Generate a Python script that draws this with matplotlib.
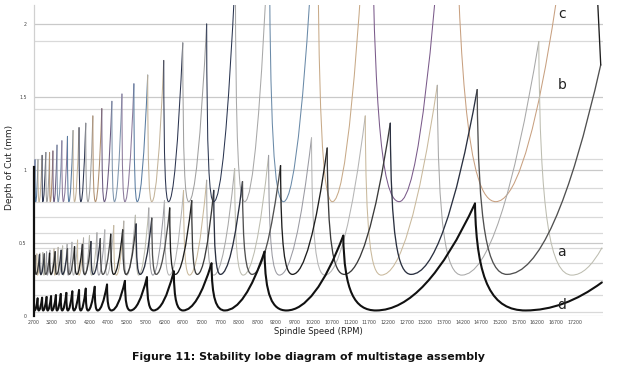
import matplotlib
matplotlib.use("Agg")
import matplotlib.pyplot as plt
from matplotlib.path import Path
from matplotlib.patches import PathPatch

# ---------------- data ----------------
x_ticks = list(range(2700, 17201, 500))
y_ticks = [0, 0.5, 1, 1.5, 2]
y_tick_labels = ["0", "0.5", "1", "1.5", "2"]

# family c (coloured, minimum depth ~0.78)
c_cusp_rpm = [2700, 2740, 2820, 2930, 3030, 3130, 3220, 3330, 3460, 3610, 3760, 3920, 4100,
              4290, 4530, 4800, 5070, 5390, 5760, 6190, 6700, 7340, 8110, 9020, 10310,
              11750, 13970, 17930]
c_cusp_depth = [1.06, 1.07, 1.07, 1.10, 1.12, 1.12, 1.13, 1.17, 1.20, 1.23, 1.27, 1.29, 1.32,
                1.37, 1.42, 1.47, 1.52, 1.59, 1.65, 1.75, 1.87, 2.00, 2.35, 2.70, 3.10,
                3.50, 4.00, 5.00]
c_min_rpm = [2710, 2760, 2850, 2950, 3060, 3150, 3250, 3360, 3500, 3650, 3800, 3970, 4160,
             4360, 4600, 4870, 5150, 5480, 5870, 6320, 6860, 7530, 8360, 9400, 10710,
             12500, 15090]
c_min_depth = 0.783

# family a (grey, minimum depth ~0.28)
a_cusp_rpm = [2700, 2790, 2870, 2950, 3050, 3140, 3250, 3360, 3480, 3600, 3730, 3880, 4040,
              4200, 4400, 4610, 4850, 5120, 5430, 5790, 6210, 6720, 7340, 8090, 9000,
              10150, 11590, 13520, 16240, 17930]
a_cusp_depth = [0.42, 0.425, 0.43, 0.435, 0.44, 0.45, 0.46, 0.47, 0.48, 0.49, 0.505, 0.52,
                0.535, 0.55, 0.57, 0.59, 0.62, 0.65, 0.69, 0.74, 0.79, 0.86, 0.93, 1.01,
                1.10, 1.22, 1.37, 1.58, 1.88, 0.466]
a_min_rpm = [2720, 2810, 2900, 2980, 3070, 3170, 3270, 3380, 3500, 3630, 3770, 3920, 4080,
             4260, 4450, 4670, 4920, 5200, 5520, 5900, 6340, 6880, 7530, 8320, 9290,
             10510, 12020, 14180, 17130]
a_min_depth = 0.28

# family b (black, minimum depth ~0.28)
b_cusp_rpm = [2700, 2740, 2860, 2990, 3130, 3280, 3440, 3610, 3800, 4010, 4240, 4490, 4770,
              5090, 5450, 5870, 6350, 6940, 7530, 8300, 9320, 10570, 12260, 14590, 17900]
b_cusp_depth = [0.41, 0.415, 0.42, 0.425, 0.43, 0.44, 0.45, 0.46, 0.475, 0.49, 0.51, 0.53,
                0.56, 0.59, 0.63, 0.67, 0.74, 0.79, 0.86, 0.92, 1.03, 1.15, 1.32, 1.55, 1.72]
b_min_rpm = [2710, 2770, 2900, 3030, 3170, 3320, 3480, 3660, 3860, 4070, 4300, 4560, 4850,
             5180, 5560, 5990, 6500, 7090, 7710, 8560, 9640, 11030, 12820, 15390]
b_min_depth = 0.285
b_tail_rpm = [17900, 17790]
b_tail_depth = [1.72, 2.30]

# family d (thick black, minimum depth ~0.04)
d_cusp_rpm = [2700, 2810, 2930, 3050, 3170, 3300, 3430, 3580, 3740, 3920, 4100, 4340, 4670,
              5150, 5740, 6460, 7470, 8890, 11000, 14530, 17930]
d_cusp_depth = [0.115, 0.12, 0.125, 0.13, 0.135, 0.142, 0.15, 0.158, 0.168, 0.177, 0.187,
                0.20, 0.215, 0.24, 0.265, 0.305, 0.36, 0.44, 0.55, 0.77, 0.23]
d_min_rpm = [2730, 2840, 2960, 3080, 3200, 3330, 3470, 3620, 3785, 3965, 4160, 4420, 4790,
             5300, 5920, 6710, 7830, 9480, 11880, 15890]
d_min_depth = 0.038

# extra horizontal grid lines from the overlaid charts
grid_levels = [0, 0.03, 0.144, 0.247, 0.363, 0.466, 0.5, 0.568, 0.68, 0.783, 0.877, 1.0,
               1.42, 1.5, 1.88, 2.0]
partial_grid_level = 1.075

series_labels = ["c", "b", "a", "d"]
label_rpm = [16860, 16860, 16860, 16860]
label_depth = [2.07, 1.58, 0.44, 0.075]

# ---------------- styling ----------------
c_colors = ['#8c7a9c', '#5a7ca0', '#c4b49a', '#2c3550', '#a0a0a0', '#b09070', '#6a5a80',
            '#7f95ad']
c_colors_last = ['#2a3550', '#a8a8a8', '#6a8aa8', '#c8aa88', '#7a5a8a', '#c8a080']
a_colors = ['#b5b5b5', '#c9b99c', '#a8a8a8', '#bdbdb0', '#9a9aa2']
b_colors = ['#1e1e1e', '#3a3a3a', '#2a3040', '#505050']

fig = plt.figure(figsize=(6.3, 3.69), dpi=100)
ax = fig.add_axes([0.0532, 0.1436, 0.9039, 0.843])
ax.set_xlim(2700, 17960)
ax.set_ylim(0, 2.13)


def draw_family(cusp_n, cusp_h, min_n, min_h, colors, lw, z):
    for i in range(len(min_n)):
        nl, hl = cusp_n[i], cusp_h[i]
        nr, hr = cusp_n[i + 1], cusp_h[i + 1]
        nm = min_n[i]
        wl = nm - nl
        wr = nr - nm
        verts = [(nl, hl),
                 (nl + 0.03 * wl, min_h + 0.25 * (hl - min_h)),
                 (nl + 0.35 * wl, min_h),
                 (nm, min_h),
                 (nm + 0.5 * wr, min_h),
                 (nr, hr)]
        codes = [Path.MOVETO, Path.CURVE4, Path.CURVE4, Path.CURVE4,
                 Path.CURVE3, Path.CURVE3]
        patch = PathPatch(Path(verts, codes), fill=False, edgecolor=colors[i], lw=lw,
                          zorder=z, capstyle='round', joinstyle='round')
        ax.add_patch(patch)


for lv in grid_levels:
    major = lv in (0.5, 1.0, 1.5, 2.0)
    ax.axhline(lv, color='#c9c9c9' if major else '#d9d9d9', lw=0.9, zorder=0)
ax.axhline(partial_grid_level, xmin=0, xmax=0.316, color='#d9d9d9', lw=0.9, zorder=0)
ax.axhline(partial_grid_level, xmin=0.679, xmax=1, color='#d9d9d9', lw=0.9, zorder=0)

nc = len(c_min_rpm)
c_cols = [c_colors[i % len(c_colors)] for i in range(nc - len(c_colors_last))] + c_colors_last
a_cols = [a_colors[i % len(a_colors)] for i in range(len(a_min_rpm))]
b_cols = [b_colors[i % len(b_colors)] for i in range(len(b_min_rpm))]
d_cols = ['#111111'] * len(d_min_rpm)

draw_family(c_cusp_rpm, c_cusp_depth, c_min_rpm, c_min_depth, c_cols, 0.75, 2)
draw_family(a_cusp_rpm, a_cusp_depth, a_min_rpm, a_min_depth, a_cols, 0.75, 3)
draw_family(b_cusp_rpm, b_cusp_depth, b_min_rpm, b_min_depth, b_cols, 0.95, 4)
ax.plot(b_tail_rpm, b_tail_depth, color='#1e1e1e', lw=0.95, zorder=4)
draw_family(d_cusp_rpm, d_cusp_depth, d_min_rpm, d_min_depth, d_cols, 1.5, 5)

for s, xr, yd in zip(series_labels, label_rpm, label_depth):
    ax.text(xr, yd, s, fontsize=10, color='#222222', ha='center', va='center', zorder=6)

# axes appearance
for sp in ax.spines.values():
    sp.set_visible(False)
ax.plot([2700, 2700], [0, 1.02], color='#111111', lw=1.6, zorder=6, clip_on=False)
ax.plot([2700, 2700], [1.02, 2.13], color='#d0d0d0', lw=0.9, zorder=1, clip_on=False)

ax.set_xticks(x_ticks)
ax.set_xticklabels([str(v) for v in x_ticks])
ax.set_yticks(y_ticks)
ax.set_yticklabels(y_tick_labels)
ax.tick_params(axis='x', length=0, pad=3, labelsize=3.4, labelcolor='#444444')
ax.tick_params(axis='y', length=0, pad=5, labelsize=3.4, labelcolor='#444444')

fig.text(10 / 630, 1 - 167 / 369, "Depth of Cut (mm)", rotation=90, ha='center',
         va='center', fontsize=6.5, color='#222222')
fig.text(318 / 630, 1 - 331 / 369, "Spindle Speed (RPM)", ha='center', va='center',
         fontsize=6.1, color='#222222')
fig.text(308 / 630, 1 - 357 / 369, "Figure 11: Stability lobe diagram of multistage assembly",
         ha='center', va='center', fontsize=7.9, fontweight='bold', color='#111111')

fig.savefig("out.png", dpi=100)
